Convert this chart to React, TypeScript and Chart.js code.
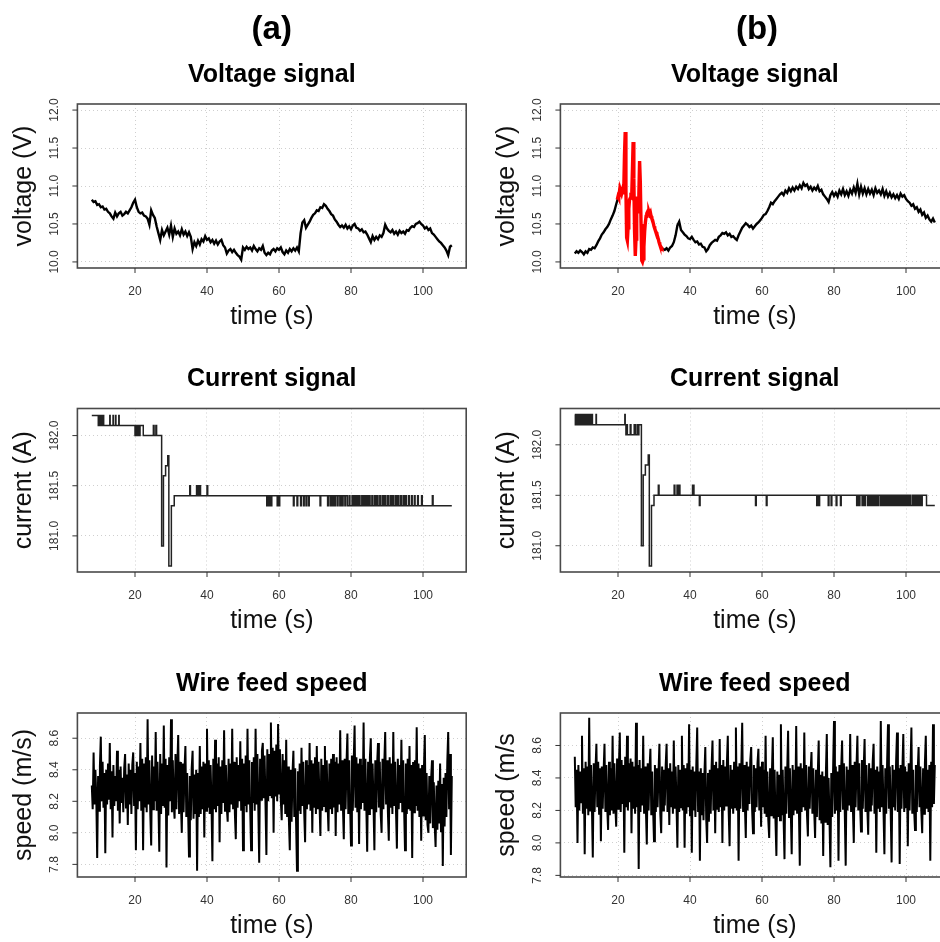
import React, { useEffect, useRef } from "react";
import { Chart, registerables } from "chart.js";

Chart.register(...registerables);

// ---------------- DATA ----------------
const TIME_START = 8; // s
const VOLT_STEP = 0.5; // s between voltage samples
const WIRE_STEP = 0.25; // s between wire speed samples
const RED_START = 19.8; // s, start of highlighted voltage segment
const RED_STEP = 0.2;

const X_TICKS = [20, 40, 60, 80, 100];
const VOLT_TICKS = [10.0, 10.5, 11.0, 11.5, 12.0];
const CURR_TICKS = [181.0, 181.5, 182.0];
const WIRE_TICKS = [7.8, 8.0, 8.2, 8.4, 8.6];

const VOLTAGE_A = [
  10.82, 10.79, 10.8, 10.75, 10.76, 10.72, 10.73, 10.69, 10.7,
  10.66, 10.64, 10.6, 10.57, 10.65, 10.6, 10.64, 10.66, 10.61, 10.63, 10.66, 10.64, 10.68, 10.72, 10.78, 10.82,
  10.72, 10.66, 10.64, 10.65, 10.61, 10.6, 10.57, 10.49, 10.68, 10.62, 10.58, 10.47, 10.38, 10.29, 10.42, 10.35,
  10.4, 10.45, 10.36, 10.48, 10.33, 10.44, 10.37, 10.4, 10.35, 10.43, 10.36, 10.4, 10.34, 10.39, 10.33, 10.17,
  10.26, 10.21, 10.28, 10.23, 10.3, 10.27, 10.34, 10.29, 10.31, 10.26, 10.29, 10.24, 10.28, 10.23, 10.27, 10.29,
  10.22, 10.19, 10.11, 10.15, 10.17, 10.13, 10.16, 10.12, 10.09, 10.07, 10.03, 10.19, 10.16, 10.2, 10.17, 10.19,
  10.15, 10.21, 10.17, 10.14, 10.18, 10.16, 10.21, 10.12, 10.09, 10.12, 10.1, 10.15, 10.17, 10.14, 10.18, 10.16,
  10.19, 10.13, 10.1, 10.15, 10.12, 10.17, 10.14, 10.18, 10.15, 10.19, 10.14, 10.38, 10.52, 10.55, 10.45, 10.49,
  10.53, 10.58, 10.62, 10.64, 10.68, 10.67, 10.72, 10.71, 10.76, 10.74, 10.7, 10.67, 10.63, 10.61, 10.56, 10.53,
  10.49, 10.46, 10.48, 10.45, 10.49, 10.44, 10.47, 10.43, 10.48, 10.5, 10.45, 10.44, 10.41, 10.43, 10.39, 10.4,
  10.36, 10.31, 10.26, 10.34, 10.29, 10.33, 10.3, 10.35, 10.33, 10.38, 10.49, 10.44, 10.41, 10.39, 10.42, 10.37,
  10.4, 10.36, 10.41, 10.38, 10.4, 10.37, 10.42, 10.41, 10.45, 10.47, 10.46, 10.5, 10.51, 10.53, 10.5, 10.48,
  10.44, 10.46, 10.42, 10.44, 10.38, 10.36, 10.33, 10.3, 10.27, 10.25, 10.22, 10.19, 10.15, 10.09, 10.2, 10.22,
];

const N = null;
const VOLTAGE_B = [
  10.11, 10.14, 10.12, 10.15, 10.13, 10.1, 10.14, 10.12, 10.17, 10.16, 10.19, 10.18, 10.22, 10.27, 10.31, 10.36,
  10.39, 10.43, 10.46, 10.5, 10.56, 10.61, 10.67, 10.76, 10.84,
  N, N, N, N, N, N, N, N, N, N, N, N, N, N, N, N, N, N, N, N, N, N, N,
  10.19, 10.17, 10.16, 10.18, 10.15, 10.19, 10.21, 10.26, 10.35, 10.48, 10.53, 10.42, 10.39, 10.36, 10.34, 10.31,
  10.3, 10.33, 10.29, 10.26, 10.27, 10.23, 10.24, 10.2, 10.19, 10.14, 10.17, 10.22, 10.25, 10.27, 10.29, 10.28,
  10.33, 10.35, 10.38, 10.37, 10.39, 10.35, 10.37, 10.33, 10.34, 10.31, 10.29, 10.35, 10.4, 10.45, 10.48, 10.51,
  10.49, 10.46, 10.48, 10.44, 10.47, 10.5, 10.52, 10.55, 10.58, 10.62, 10.63, 10.67, 10.72, 10.78, 10.76, 10.8,
  10.83, 10.86, 10.89, 10.91, 10.88, 10.94, 10.91, 10.97, 10.93, 10.98, 10.94, 10.99, 10.96, 11.01, 10.97, 11.04,
  11.0, 11.02, 10.96, 10.99, 10.94, 10.98, 10.95, 11.0, 10.93, 10.95, 10.89, 10.86, 10.83, 10.79, 10.88, 10.92,
  10.87, 10.91, 10.86, 10.94, 10.89, 10.96, 10.88, 10.93, 10.87, 10.95, 10.9, 10.98, 10.91, 11.03, 10.89, 10.99,
  10.9, 10.97, 10.89, 10.96, 10.9, 10.95, 10.88, 10.97, 10.91, 10.94, 10.89, 10.96, 10.87, 10.93, 10.86, 10.91,
  10.85, 10.89, 10.84, 10.88, 10.83, 10.9, 10.86, 10.88, 10.83, 10.8, 10.78, 10.74, 10.76, 10.7, 10.72, 10.66,
  10.69, 10.62, 10.65, 10.58, 10.61, 10.56, 10.53, 10.57, 10.52,
];

const VOLTAGE_B_RED = [
  10.82, 10.86, 10.84, 10.92, 10.88, 10.93, 10.9, 10.94, 10.91, 10.95, 11.4, 11.71, 10.95, 10.32, 10.28, 10.45,
  10.7, 10.82, 10.84, 10.86, 10.85, 11.2, 11.58, 11.1, 10.4, 10.08, 10.3, 10.64, 10.86, 10.66, 10.9, 11.33,
  11.05, 10.5, 10.02, 10.0, 10.04, 10.2, 10.4, 10.52, 10.6, 10.64, 10.66, 10.62, 10.66, 10.63, 10.65, 10.6,
  10.57, 10.55, 10.51, 10.47, 10.44, 10.41, 10.39, 10.37, 10.33, 10.3, 10.26, 10.23, 10.21, 10.19, 10.18,
];

// current: [time of change, new level]
const CURRENT_A = [
  [8.0, 182.2], [9.8, 182.1], [9.9, 182.2], [10.1, 182.1], [10.2, 182.2], [10.4, 182.1], [10.5, 182.2], [10.7, 182.1],
  [10.8, 182.2], [11.0, 182.1], [11.1, 182.2], [11.3, 182.1], [13.0, 182.2], [13.1, 182.1], [13.9, 182.2], [14.0, 182.1],
  [14.6, 182.2], [14.7, 182.1], [15.5, 182.2], [15.6, 182.1], [20.0, 182.0], [20.2, 182.1], [20.3, 182.0], [20.5, 182.1],
  [20.6, 182.0], [20.8, 182.1], [20.9, 182.0], [21.1, 182.1], [21.2, 182.0], [21.4, 182.1], [22.3, 182.0], [25.1, 182.1],
  [25.3, 182.0], [25.8, 182.1], [26.0, 182.0], [27.4, 180.9], [27.9, 181.6], [28.5, 181.7], [29.1, 181.8], [29.4, 180.7],
  [30.1, 181.3], [30.9, 181.4], [35.2, 181.5], [35.4, 181.4], [37.1, 181.5], [37.3, 181.4], [37.6, 181.5], [37.8, 181.4],
  [38.0, 181.5], [38.2, 181.4], [40.0, 181.5], [40.2, 181.4], [56.6, 181.3], [56.8, 181.4], [57.0, 181.3], [57.2, 181.4],
  [57.4, 181.3], [57.6, 181.4], [57.8, 181.3], [58.0, 181.4], [59.5, 181.3], [59.7, 181.4], [60.0, 181.3], [60.2, 181.4],
  [64.0, 181.3], [64.2, 181.4], [65.0, 181.3], [65.2, 181.4], [66.0, 181.3], [66.2, 181.4], [66.8, 181.3], [67.0, 181.4],
  [67.5, 181.3], [67.7, 181.4], [68.2, 181.3], [68.4, 181.4], [71.4, 181.3], [71.6, 181.4], [73.5, 181.3], [73.7, 181.4],
  [74.2, 181.3], [74.4, 181.4], [74.8, 181.3], [75.0, 181.4], [75.4, 181.3], [75.7, 181.4], [76.2, 181.3], [76.4, 181.4],
  [76.9, 181.3], [77.1, 181.4], [77.5, 181.3], [77.8, 181.4], [78.3, 181.3], [78.5, 181.4], [79.0, 181.3], [79.5, 181.4],
  [79.7, 181.3], [80.3, 181.4], [80.6, 181.3], [81.0, 181.4], [81.2, 181.3], [81.6, 181.4], [81.9, 181.3], [82.3, 181.4],
  [82.5, 181.3], [83.0, 181.4], [83.3, 181.3], [83.7, 181.4], [84.0, 181.3], [84.4, 181.4], [84.6, 181.3], [85.0, 181.4],
  [85.3, 181.3], [85.8, 181.4], [86.0, 181.3], [86.5, 181.4], [86.8, 181.3], [87.2, 181.4], [87.5, 181.3], [88.0, 181.4],
  [88.2, 181.3], [88.7, 181.4], [89.0, 181.3], [89.4, 181.4], [89.7, 181.3], [90.2, 181.4], [90.4, 181.3], [90.9, 181.4],
  [91.2, 181.3], [91.6, 181.4], [91.8, 181.3], [92.3, 181.4], [92.6, 181.3], [93.0, 181.4], [93.3, 181.3], [93.8, 181.4],
  [94.0, 181.3], [94.5, 181.4], [94.8, 181.3], [95.2, 181.4], [95.4, 181.3], [96.0, 181.4], [96.2, 181.3], [96.8, 181.4],
  [97.0, 181.3], [97.6, 181.4], [97.8, 181.3], [98.5, 181.4], [98.7, 181.3], [99.6, 181.4], [99.8, 181.3], [102.6, 181.4],
  [102.8, 181.3], [108.0, 181.3],
];

const CURRENT_B = [
  [8.0, 182.3], [8.15, 182.2], [8.3, 182.3], [8.45, 182.2], [8.6, 182.3], [8.75, 182.2], [8.9, 182.3], [9.05, 182.2],
  [9.2, 182.3], [9.3, 182.2], [9.7, 182.3], [9.85, 182.2], [10.0, 182.3], [10.15, 182.2], [10.3, 182.3], [10.45, 182.2],
  [10.6, 182.3], [10.7, 182.2], [11.1, 182.3], [11.25, 182.2], [11.4, 182.3], [11.55, 182.2], [11.6, 182.3], [11.7, 182.2],
  [12.1, 182.3], [12.25, 182.2], [12.4, 182.3], [12.55, 182.2], [12.7, 182.3], [12.9, 182.2], [13.9, 182.3], [14.0, 182.2],
  [21.9, 182.3], [22.0, 182.2], [22.2, 182.1], [22.4, 182.2], [22.6, 182.1], [23.4, 182.2], [23.6, 182.1], [24.5, 182.2],
  [24.9, 182.1], [25.4, 182.2], [25.6, 182.1], [25.8, 182.2],
  [26.5, 181.0], [27.0, 181.7], [27.6, 181.8], [28.4, 181.9], [28.7, 180.8], [29.3, 181.4], [30.0, 181.5], [31.2, 181.6],
  [31.4, 181.5], [35.6, 181.6], [35.8, 181.5], [36.4, 181.6], [36.6, 181.5], [37.0, 181.6], [37.2, 181.5], [40.7, 181.6],
  [41.1, 181.5], [42.6, 181.4], [42.8, 181.5], [58.2, 181.4], [58.4, 181.5], [61.2, 181.4], [61.4, 181.5], [75.2, 181.4],
  [75.4, 181.5], [75.8, 181.4], [76.0, 181.5], [78.4, 181.4], [78.6, 181.5], [79.2, 181.4], [79.4, 181.5], [80.6, 181.4],
  [80.8, 181.5], [81.8, 181.4], [82.0, 181.5], [86.3, 181.4], [86.6, 181.5], [87.0, 181.4], [87.2, 181.5], [87.8, 181.4],
  [88.0, 181.5], [88.4, 181.4], [88.7, 181.5], [89.3, 181.4], [89.5, 181.5], [89.9, 181.4], [90.2, 181.5], [90.6, 181.4],
  [91.0, 181.5], [91.3, 181.4], [91.7, 181.5], [92.1, 181.4], [92.3, 181.5], [92.8, 181.4], [93.1, 181.5], [93.5, 181.4],
  [93.8, 181.5], [94.2, 181.4], [94.5, 181.5], [94.9, 181.4], [95.3, 181.5], [95.6, 181.4], [95.9, 181.5], [96.3, 181.4],
  [96.7, 181.5], [97.0, 181.4], [97.4, 181.5], [97.7, 181.4], [98.1, 181.5], [98.5, 181.4], [98.8, 181.5], [99.2, 181.4],
  [99.6, 181.5], [99.9, 181.4], [100.3, 181.5], [100.6, 181.4], [101.0, 181.5], [101.3, 181.4], [101.8, 181.5], [102.1, 181.4],
  [102.5, 181.5], [102.8, 181.4], [103.2, 181.5], [103.5, 181.4], [103.9, 181.5], [104.3, 181.4], [104.5, 181.5], [105.7, 181.4],
  [108.0, 181.4],
];

const WIRE_A = [
  8.3, 8.15, 8.51, 8.18, 8.4, 8.22, 7.84, 8.36, 8.14, 8.42, 8.61, 8.2, 8.45, 8.16, 8.38, 7.87, 8.4, 8.18, 8.44, 8.21,
  8.57, 8.15, 8.39, 7.97, 8.43, 8.17, 8.36, 8.2, 8.52, 8.14, 8.4, 8.06, 8.42, 8.19, 8.35, 8.13, 8.41, 8.5, 8.16, 8.37,
  8.05, 8.44, 8.18, 8.4, 8.12, 8.43, 8.51, 8.17, 8.38, 7.89, 8.45, 8.15, 8.42, 8.2, 8.57, 8.14, 8.47, 7.89, 8.44, 8.16,
  8.48, 8.13, 8.72, 8.18, 8.46, 8.12, 7.92, 8.49, 8.15, 8.42, 8.2, 8.64, 8.14, 8.45, 8.19, 7.88, 8.5, 8.12, 8.44, 8.17,
  8.68, 8.16, 8.47, 7.78, 8.43, 8.11, 8.48, 8.2, 8.72, 8.13, 8.46, 8.18, 8.09, 8.5, 8.15, 8.42, 8.62, 8.12, 8.45, 8.19,
  8.0, 8.44, 8.13, 8.4, 8.55, 8.1, 8.38, 8.14, 7.85, 8.36, 8.08, 8.41, 8.52, 8.09, 8.37, 8.12, 8.4, 7.76, 8.38, 8.1,
  8.55, 8.12, 8.42, 8.15, 8.45, 7.97, 8.44, 8.14, 8.66, 8.16, 8.46, 8.12, 8.43, 8.18, 7.82, 8.47, 8.15, 8.59, 8.13, 8.44,
  8.17, 8.48, 7.94, 8.42, 8.12, 8.46, 8.19, 8.65, 8.14, 8.43, 8.16, 8.07, 8.47, 8.13, 8.44, 8.18, 8.66, 8.15, 8.45, 8.12,
  7.96, 8.48, 8.16, 8.43, 8.2, 8.58, 8.14, 8.47, 7.89, 8.44, 8.17, 8.49, 8.13, 8.66, 8.18, 8.46, 8.15, 7.89, 8.45, 8.19,
  8.48, 8.14, 8.66, 8.18, 8.5, 8.16, 7.81, 8.47, 8.21, 8.52, 8.57, 8.22, 8.49, 8.18, 7.86, 8.53, 8.2, 8.5, 8.24, 8.7,
  8.22, 8.54, 8.0, 8.52, 8.23, 8.56, 8.2, 8.69, 8.25, 8.53, 8.21, 8.08, 8.5, 8.18, 8.46, 8.12, 8.59, 8.1, 8.42, 8.08,
  7.89, 8.4, 8.07, 8.38, 8.52, 8.1, 8.41, 8.06, 7.76, 8.39, 8.14, 8.44, 8.12, 8.54, 8.17, 8.45, 8.13, 7.94, 8.46, 8.15,
  8.43, 8.18, 8.57, 8.14, 8.46, 8.0, 8.44, 8.16, 8.48, 8.12, 8.55, 8.15, 8.45, 8.19, 7.98, 8.47, 8.14, 8.43, 8.17, 8.55,
  8.13, 8.46, 8.18, 8.01, 8.44, 8.15, 8.47, 8.12, 8.5, 8.16, 8.45, 7.98, 8.48, 8.13, 8.44, 8.18, 8.65, 8.14, 8.46, 8.17,
  7.96, 8.47, 8.15, 8.44, 8.63, 8.12, 8.46, 8.18, 7.92, 8.49, 8.14, 8.45, 8.68, 8.16, 8.48, 8.13, 8.44, 7.93, 8.47, 8.15,
  8.43, 8.19, 8.7, 8.14, 8.47, 8.17, 7.88, 8.45, 8.12, 8.48, 8.6, 8.15, 8.44, 8.18, 7.89, 8.46, 8.13, 8.43, 8.57, 8.16,
  8.45, 8.12, 8.0, 8.47, 8.15, 8.44, 8.64, 8.18, 8.46, 8.13, 7.95, 8.48, 8.16, 8.44, 8.12, 8.64, 8.17, 8.45, 8.14, 7.9,
  8.47, 8.15, 8.43, 8.19, 8.59, 8.13, 8.46, 8.16, 7.89, 8.44, 8.12, 8.47, 8.15, 8.55, 8.14, 8.43, 7.84, 8.45, 8.13, 8.46,
  8.17, 8.67, 8.14, 8.44, 8.1, 8.41, 7.95, 8.43, 8.11, 8.4, 8.62, 8.08, 8.38, 8.05, 8.0, 8.36, 8.06, 8.34, 8.46, 8.03,
  8.32, 8.05, 7.91, 8.3, 8.02, 8.33, 8.06, 8.44, 8.01, 8.31, 7.79, 8.35, 8.04, 8.38, 8.1, 8.45, 8.64, 8.15, 8.5, 7.86, 8.36,
];

const WIRE_B = [
  8.53, 8.22, 8.45, 8.0, 8.48, 8.2, 8.44, 8.25, 8.66, 8.18, 8.46, 7.93, 8.5, 8.21, 8.47, 8.17, 8.77, 8.2, 8.48, 8.23,
  7.91, 8.49, 8.19, 8.45, 8.61, 8.22, 8.5, 8.18, 8.46, 8.01, 8.47, 8.21, 8.44, 8.61, 8.19, 8.48, 8.22, 8.08, 8.5, 8.17,
  8.46, 8.2, 8.66, 8.18, 8.49, 8.23, 8.1, 8.52, 8.21, 8.47, 8.68, 8.19, 8.51, 8.24, 8.48, 7.94, 8.53, 8.22, 8.66, 8.2,
  8.49, 8.25, 8.52, 8.06, 8.5, 8.21, 8.47, 8.18, 8.74, 8.22, 8.48, 7.84, 8.51, 8.19, 8.46, 8.23, 8.66, 8.18, 8.47, 8.21,
  7.99, 8.49, 8.2, 8.45, 8.58, 8.17, 8.44, 8.21, 8.01, 8.48, 8.19, 8.46, 8.22, 8.43, 8.61, 8.18, 8.06, 8.47, 8.2, 8.45,
  8.23, 8.48, 8.61, 8.19, 8.46, 8.11, 8.49, 8.22, 8.44, 8.18, 8.63, 8.21, 8.47, 8.24, 7.97, 8.48, 8.19, 8.45, 8.22, 8.66,
  8.2, 8.48, 7.97, 8.46, 8.18, 8.49, 8.22, 8.73, 8.17, 8.45, 7.94, 8.47, 8.2, 8.44, 8.16, 8.48, 8.71, 8.19, 8.44, 7.89,
  8.46, 8.17, 8.43, 8.14, 8.42, 8.59, 8.15, 8.0, 8.43, 8.13, 8.45, 8.18, 8.47, 8.63, 8.2, 8.48, 8.06, 8.5, 8.21, 8.46,
  8.19, 8.64, 8.22, 8.48, 8.0, 8.51, 8.2, 8.47, 8.23, 8.49, 8.66, 8.19, 7.98, 8.48, 8.21, 8.45, 8.18, 8.5, 8.22, 8.71,
  8.2, 8.47, 7.89, 8.49, 8.21, 8.46, 8.74, 8.19, 8.48, 8.23, 8.03, 8.5, 8.2, 8.47, 8.24, 8.51, 8.59, 8.21, 8.06, 8.48,
  8.19, 8.46, 8.22, 8.49, 8.58, 8.2, 8.47, 8.1, 8.5, 8.22, 8.45, 8.18, 8.66, 8.16, 8.44, 8.14, 8.03, 8.46, 8.17, 8.43,
  8.65, 8.15, 8.45, 8.13, 7.92, 8.44, 8.16, 8.42, 8.14, 8.73, 8.17, 8.45, 8.15, 7.9, 8.47, 8.18, 8.44, 8.69, 8.16, 8.46,
  8.19, 7.93, 8.48, 8.17, 8.45, 8.2, 8.72, 8.18, 8.47, 8.21, 7.86, 8.49, 8.19, 8.46, 8.22, 8.68, 8.2, 8.48, 8.17, 8.04,
  8.47, 8.21, 8.44, 8.56, 8.18, 8.46, 8.2, 8.03, 8.45, 8.16, 8.43, 8.63, 8.14, 8.42, 8.12, 8.44, 7.92, 8.41, 8.13, 8.43,
  8.67, 8.11, 8.4, 8.14, 7.85, 8.43, 8.16, 8.45, 8.75, 8.18, 8.47, 8.2, 8.44, 7.89, 8.48, 8.19, 8.46, 8.63, 8.21, 8.49,
  8.18, 7.86, 8.47, 8.2, 8.45, 8.23, 8.67, 8.19, 8.48, 8.21, 8.0, 8.5, 8.22, 8.47, 8.66, 8.2, 8.49, 8.23, 8.07, 8.51,
  8.21, 8.46, 8.64, 8.19, 8.48, 8.22, 8.05, 8.49, 8.2, 8.46, 8.23, 8.5, 8.61, 8.18, 8.45, 7.94, 8.47, 8.21, 8.44, 8.19,
  8.75, 8.22, 8.48, 8.2, 7.93, 8.46, 8.18, 8.49, 8.73, 8.21, 8.47, 8.19, 7.88, 8.48, 8.22, 8.45, 8.2, 8.5, 8.68, 8.19,
  8.46, 7.87, 8.48, 8.21, 8.45, 8.67, 8.19, 8.47, 8.22, 8.44, 7.98, 8.49, 8.2, 8.46, 8.71, 8.18, 8.45, 8.21, 8.08, 8.48,
  8.19, 8.44, 8.59, 8.22, 8.47, 8.2, 8.06, 8.46, 8.18, 8.49, 8.66, 8.21, 8.45, 8.19, 8.48, 7.89, 8.5, 8.22, 8.73, 8.24, 8.48,
];

// ---------------- LAYOUT / STYLE ----------------
const FONT = '"Liberation Sans", Arial, Helvetica, sans-serif';
const X_MIN = 4;
const X_MAX = 112;

const COLS = {
  a: { left: 0, width: 470, boxLeft: 77.4, boxRight: 466.2, header: "(a)", headerX: 271.7 },
  b: { left: 470, width: 490, boxLeft: 560.4, boxRight: 949.2, header: "(b)", headerX: 757 },
};
const ROWS = {
  voltage: { top: 0, height: 345, boxTop: 104, boxBottom: 268 },
  current: { top: 345, height: 305, boxTop: 408.5, boxBottom: 572 },
  wire: { top: 650, height: 292, boxTop: 713, boxBottom: 877 },
};

const uniform = (vals: (number | null)[], t0: number, dt: number) =>
  vals.map((v, i) => ({ x: t0 + i * dt, y: v }));
const pairs = (arr: number[][]) => arr.map(([t, v]) => ({ x: t, y: v }));

const rLook = {
  id: "rlook",
  afterDraw(chart: any, _args: any, opts: any) {
    const { ctx, chartArea: a, scales } = chart;
    const xs = scales.x;
    const ys = scales.y;
    ctx.save();
    // frame
    ctx.strokeStyle = "#4a4a4a";
    ctx.lineWidth = 1.6;
    ctx.strokeRect(a.left, a.top, a.right - a.left, a.bottom - a.top);
    // x ticks
    ctx.strokeStyle = "#333";
    ctx.lineWidth = 1;
    ctx.fillStyle = "#333";
    ctx.font = `12px ${FONT}`;
    ctx.textAlign = "center";
    ctx.textBaseline = "middle";
    xs.ticks.forEach((t: any) => {
      const px = xs.getPixelForValue(t.value);
      ctx.beginPath();
      ctx.moveTo(px, a.bottom);
      ctx.lineTo(px, a.bottom + 5);
      ctx.stroke();
      ctx.fillText(String(t.value), px, a.bottom + 24);
    });
    ys.ticks.forEach((t: any) => {
      const py = ys.getPixelForValue(t.value);
      ctx.beginPath();
      ctx.moveTo(a.left - 5, py);
      ctx.lineTo(a.left, py);
      ctx.stroke();
      ctx.save();
      ctx.translate(a.left - 23, py);
      ctx.rotate(-Math.PI / 2);
      ctx.fillText(Number(t.value).toFixed(1), 0, 0);
      ctx.restore();
    });
    // axis titles
    ctx.fillStyle = "#111";
    ctx.font = `25px ${FONT}`;
    ctx.fillText(opts.xTitle, (a.left + a.right) / 2, a.bottom + 49);
    ctx.save();
    ctx.translate(a.left - 53, (a.top + a.bottom) / 2);
    ctx.rotate(-Math.PI / 2);
    ctx.fillText(opts.yTitle, 0, 0);
    ctx.restore();
    // panel title
    ctx.fillStyle = "#000";
    ctx.font = `bold 25px ${FONT}`;
    ctx.fillText(opts.title, (a.left + a.right) / 2, a.top - 29);
    if (opts.header) {
      ctx.font = `bold 33px ${FONT}`;
      ctx.fillText(opts.header, opts.headerX, opts.headerY);
    }
    ctx.restore();
  },
};

type PanelProps = {
  col: "a" | "b";
  row: "voltage" | "current" | "wire";
  title: string;
  yTitle: string;
  yMin: number;
  yMax: number;
  yTicks: number[];
  datasets: any[];
};

function Panel({ col, row, title, yTitle, yMin, yMax, yTicks, datasets }: PanelProps) {
  const ref = useRef<HTMLCanvasElement | null>(null);
  const c = COLS[col];
  const r = ROWS[row];
  useEffect(() => {
    if (!ref.current) return;
    const gridCommon = {
      color: "#cfcfcf",
      lineWidth: 1,
      drawTicks: false,
    };
    const chart = new Chart(ref.current, {
      type: "line",
      data: { datasets },
      options: {
        animation: false,
        responsive: false,
        maintainAspectRatio: false,
        devicePixelRatio: 1,
        events: [],
        layout: {
          padding: {
            left: c.boxLeft - c.left,
            right: c.left + c.width - c.boxRight,
            top: r.boxTop - r.top,
            bottom: r.top + r.height - r.boxBottom,
          },
        },
        elements: { point: { radius: 0 }, line: { tension: 0 } },
        plugins: {
          legend: { display: false },
          tooltip: { enabled: false },
          title: { display: false },
          rlook: {
            title,
            yTitle,
            xTitle: "time (s)",
            header: row === "voltage" ? c.header : null,
            headerX: c.headerX - c.left,
            headerY: 30,
          },
        } as any,
        scales: {
          x: {
            type: "linear",
            min: X_MIN,
            max: X_MAX,
            grid: gridCommon,
            border: { display: false, dash: [1, 3] },
            ticks: { display: false },
            afterBuildTicks: (s: any) => {
              s.ticks = X_TICKS.map((v) => ({ value: v }));
            },
            afterFit: (s: any) => {
              s.height = 0;
            },
          },
          y: {
            type: "linear",
            min: yMin,
            max: yMax,
            grid: gridCommon,
            border: { display: false, dash: [1, 3] },
            ticks: { display: false },
            afterBuildTicks: (s: any) => {
              s.ticks = yTicks.map((v) => ({ value: v }));
            },
            afterFit: (s: any) => {
              s.width = 0;
            },
          },
        },
      } as any,
      plugins: [rLook as any],
    });
    return () => chart.destroy();
  }, []);
  return (
    <canvas
      ref={ref}
      width={c.width}
      height={r.height}
      style={{ position: "absolute", left: c.left, top: r.top, width: c.width, height: r.height }}
    />
  );
}

const line = (data: any[], color: string, width: number, extra: any = {}) => ({
  data,
  borderColor: color,
  borderWidth: width,
  pointRadius: 0,
  fill: false,
  spanGaps: false,
  ...extra,
});

export default function App() {
  return (
    <div
      style={{
        position: "fixed",
        left: 0,
        top: 0,
        width: 940,
        height: 942,
        overflow: "hidden",
        background: "#fff",
      }}
    >
      <Panel
        col="a"
        row="voltage"
        title="Voltage signal"
        yTitle="voltage (V)"
        yMin={9.92}
        yMax={12.08}
        yTicks={VOLT_TICKS}
        datasets={[line(uniform(VOLTAGE_A, TIME_START, VOLT_STEP), "#000", 2.4)]}
      />
      <Panel
        col="b"
        row="voltage"
        title="Voltage signal"
        yTitle="voltage (V)"
        yMin={9.92}
        yMax={12.08}
        yTicks={VOLT_TICKS}
        datasets={[
          line(uniform(VOLTAGE_B_RED, RED_START, RED_STEP), "#ff0000", 3.4),
          line(uniform(VOLTAGE_B, TIME_START, VOLT_STEP), "#000", 2.4),
        ]}
      />
      <Panel
        col="a"
        row="current"
        title="Current signal"
        yTitle="current (A)"
        yMin={180.64}
        yMax={182.27}
        yTicks={CURR_TICKS}
        datasets={[line(pairs(CURRENT_A), "#222", 1.5, { stepped: true })]}
      />
      <Panel
        col="b"
        row="current"
        title="Current signal"
        yTitle="current (A)"
        yMin={180.74}
        yMax={182.36}
        yTicks={CURR_TICKS}
        datasets={[line(pairs(CURRENT_B), "#222", 1.5, { stepped: true })]}
      />
      <Panel
        col="a"
        row="wire"
        title="Wire feed speed"
        yTitle="speed (m/s)"
        yMin={7.72}
        yMax={8.76}
        yTicks={WIRE_TICKS}
        datasets={[line(uniform(WIRE_A, TIME_START, WIRE_STEP), "#000", 2)]}
      />
      <Panel
        col="b"
        row="wire"
        title="Wire feed speed"
        yTitle="speed (m/s"
        yMin={7.79}
        yMax={8.8}
        yTicks={WIRE_TICKS}
        datasets={[line(uniform(WIRE_B, TIME_START, WIRE_STEP), "#000", 2)]}
      />
    </div>
  );
}
